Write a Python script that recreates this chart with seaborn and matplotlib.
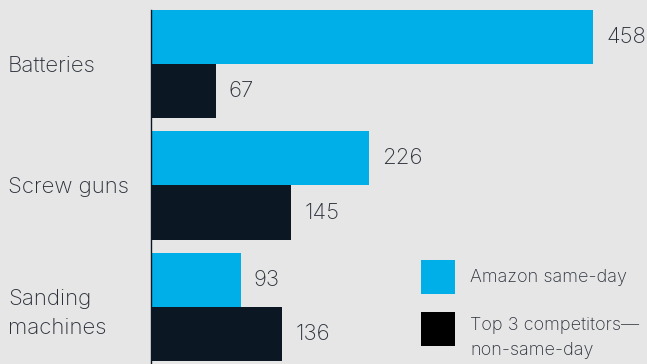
import matplotlib
matplotlib.use("Agg")
import matplotlib.pyplot as plt
from matplotlib.patches import Rectangle
import seaborn as sns
import pandas as pd

categories = ["Batteries", "Screw guns", "Sanding\nmachines"]
series_names = ["Amazon same-day", "Top 3 competitors—\nnon-same-day"]
amazon_same_day = [458, 226, 93]
competitors = [67, 145, 136]

BG = "#e6e6e6"
CYAN = "#00aee8"
NAVY = "#0b1824"
TEXT = "#2b303a"

sns.set_theme(style="white")
plt.rcParams["font.family"] = ["Inter", "DejaVu Sans"]
plt.rcParams["font.weight"] = "light"

df = pd.DataFrame({
    "category": categories * 2,
    "series": [series_names[0]] * 3 + [series_names[1]] * 3,
    "value": amazon_same_day + competitors,
})

W, H = 647, 364
fig = plt.figure(figsize=(W / 100, H / 100), dpi=100, facecolor=BG)
ax = fig.add_axes([151 / W, 0, 1 - 151 / W, 1 - 10 / H])
ax.set_facecolor(BG)

sns.barplot(data=df, y="category", x="value", hue="series", orient="h",
            palette=[CYAN, NAVY], width=0.89, legend=False, ax=ax,
            saturation=1, linewidth=0)

for cont in ax.containers:
    ax.bar_label(cont, padding=9.5, fontsize=16, color=TEXT, clip_on=False)

ax.set_xlim(0, 514)
ax.set_ylim(2.47, -0.445)
ax.set_xlabel("")
ax.set_ylabel("")
ax.set_xticks([])
for s in ["top", "right", "bottom"]:
    ax.spines[s].set_visible(False)
ax.spines["left"].set_color(NAVY)
ax.spines["left"].set_linewidth(1.0)

ax.tick_params(axis="y", length=0, pad=143 * 0.72)
for lab in ax.get_yticklabels():
    lab.set_ha("left")
    lab.set_fontsize(16)
    lab.set_color(TEXT)
    lab.set_linespacing(1.55)

# legend drawn in figure pixel coordinates
def px(x, y):
    return x / W, 1 - y / H

legend_items = [(CYAN, series_names[0], 260), ("#000000", series_names[1], 312)]
for color, label, top in legend_items:
    x0, y0 = px(421, top + 34)
    fig.add_artist(Rectangle((x0, y0), 34 / W, 34 / H, transform=fig.transFigure,
                             facecolor=color, edgecolor="none"))
    multi = "\n" in label
    tx, ty = px(470, top + 5 if multi else top + 17)
    fig.text(tx, ty, label, ha="left", va="top" if multi else "center",
             fontsize=13, color=TEXT, linespacing=1.65)

fig.savefig("out.png", dpi=100, facecolor=BG)
